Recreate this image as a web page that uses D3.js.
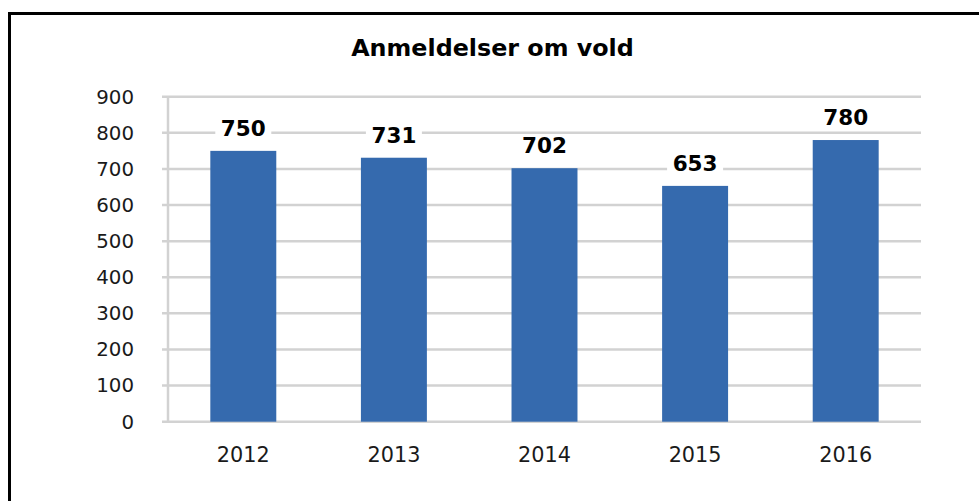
<!DOCTYPE html>
<html>
<head>
    <meta charset="utf-8">
    <title>Anmeldelser om vold</title>
    <style>
        body {
            margin: 0;
            background: #fff;
            overflow: hidden;
        }
        svg {
            display: block;
            font-family: "DejaVu Sans", Verdana, sans-serif;
        }
    </style>
</head>
<body>
    <script src="https://d3js.org/d3.v7.min.js"></script>
    <script>
        // Chart data
        var years = ["2012", "2013", "2014", "2015", "2016"];
        var reports = [750, 731, 702, 653, 780];
        var yTicks = [0, 100, 200, 300, 400, 500, 600, 700, 800, 900];
        var title = "Anmeldelser om vold";

        var width = 979;
        var height = 501;

        var svg = d3.select("body").append("svg")
            .attr("width", width)
            .attr("height", height);

        // Frame (only left and top edges are visible in the crop)
        svg.append("path")
            .attr("d", "M9.5," + height + "V13.5H" + width)
            .attr("fill", "none")
            .attr("stroke", "#000")
            .attr("stroke-width", 3);

        // Scales
        var x = d3.scaleBand()
            .domain(years)
            .range([168, 921])
            .paddingInner(0.562)
            .paddingOuter(0.281);

        var y = d3.scaleLinear()
            .domain([0, 900])
            .range([421.7, 96.7]);

        // Title
        svg.append("text")
            .attr("x", 492.5)
            .attr("y", 56)
            .attr("text-anchor", "middle")
            .attr("font-size", 23.8)
            .attr("font-weight", "bold")
            .attr("fill", "#000")
            .text(title);

        // Gridlines
        svg.append("g")
            .attr("class", "grid")
            .selectAll("line")
            .data(yTicks)
            .enter().append("line")
            .attr("x1", 162)
            .attr("x2", 921)
            .attr("y1", d => y(d))
            .attr("y2", d => y(d))
            .attr("stroke", "#d2d2d2")
            .attr("stroke-width", 2.5);

        // Y axis line
        svg.append("line")
            .attr("x1", 168)
            .attr("x2", 168)
            .attr("y1", y(900))
            .attr("y2", y(0))
            .attr("stroke", "#d2d2d2")
            .attr("stroke-width", 2.5);

        // Y axis labels
        var yAxis = d3.axisLeft(y).tickValues(yTicks).tickSize(0).tickPadding(0);
        var gy = svg.append("g")
            .attr("transform", "translate(134,0)")
            .call(yAxis);
        gy.select(".domain").remove();
        gy.selectAll("text")
            .attr("font-size", 19.8)
            .attr("font-family", "DejaVu Sans, Verdana, sans-serif")
            .attr("fill", "#1a1a1a");

        // X axis labels
        var xAxis = d3.axisBottom(x).tickSize(0).tickPadding(0);
        var gx = svg.append("g")
            .attr("transform", "translate(0,447)")
            .call(xAxis);
        gx.select(".domain").remove();
        gx.selectAll("text")
            .attr("font-size", 20.8)
            .attr("font-family", "DejaVu Sans, Verdana, sans-serif")
            .attr("fill", "#1a1a1a")
            .attr("dy", "0.71em");

        // Bars
        var rows = years.map((yr, i) => ({ year: yr, value: reports[i] }));

        svg.append("g")
            .attr("class", "bars")
            .selectAll("rect")
            .data(rows)
            .enter().append("rect")
            .attr("x", d => x(d.year))
            .attr("y", d => y(d.value))
            .attr("width", x.bandwidth())
            .attr("height", d => y(0) - y(d.value))
            .attr("fill", "#356aae");

        // Value labels with white backing
        var labels = svg.append("g")
            .attr("class", "labels")
            .selectAll("g")
            .data(rows)
            .enter().append("g")
            .attr("transform", d => "translate(" + (x(d.year) + x.bandwidth() / 2) + "," + (y(d.value) - 15) + ")");

        labels.append("rect")
            .attr("x", -28)
            .attr("y", -18)
            .attr("width", 56)
            .attr("height", 22)
            .attr("fill", "#fff");

        labels.append("text")
            .attr("text-anchor", "middle")
            .attr("font-size", 21.5)
            .attr("font-weight", "bold")
            .attr("fill", "#000")
            .text(d => d.value);
    </script>
</body>
</html>
